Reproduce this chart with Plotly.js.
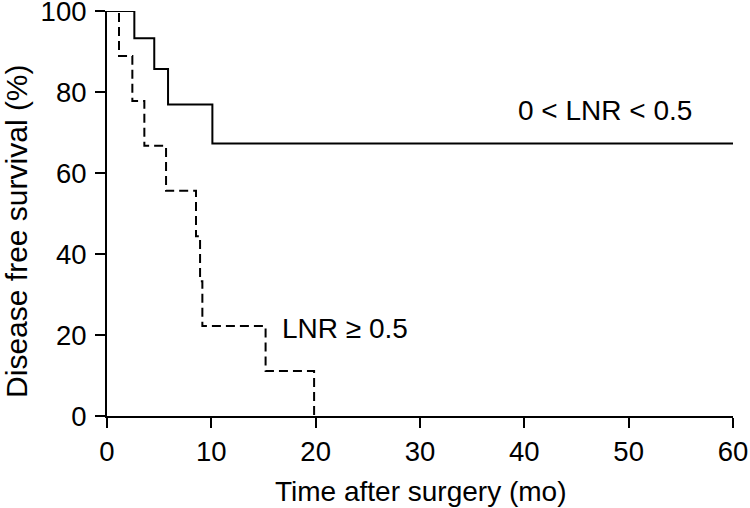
<!DOCTYPE html>
<html>
<head>
<meta charset="utf-8">
<script src="https://cdn.plot.ly/plotly-3.0.1.min.js"></script>
<style>html,body{margin:0;padding:0;background:#fff;}#chart{width:750px;height:508px;}</style>
</head>
<body>
<div id="chart"></div>
<script>
// Kaplan-Meier step data
const lowTimes = [0, 2.62, 4.53, 5.85, 10.1, 60];
const lowSurvival = [100, 93.3, 85.7, 76.9, 67.3, 67.3];
const highTimes = [0, 1.15, 2.43, 3.58, 5.66, 8.53, 8.92, 9.14, 15.2, 19.85];
const highSurvival = [100, 88.9, 77.8, 66.7, 55.6, 44.4, 33.3, 22.2, 11.1, 0];
const xTicks = [0, 10, 20, 30, 40, 50, 60];
const yTicks = [0, 20, 40, 60, 80, 100];
const labelLow = "0 < LNR < 0.5";
const labelHigh = "LNR ≥ 0.5";
const xTitle = "Time after surgery (mo)";
const yTitle = "Disease free survival (%)";

const FONT = "Liberation Sans, Arial, sans-serif";
const FS = 27.5;

const traces = [
  {x: lowTimes, y: lowSurvival, mode: "lines", line: {shape: "hv", color: "#000", width: 2}, cliponaxis: false, hoverinfo: "skip"},
  {x: highTimes, y: highSurvival, mode: "lines", line: {shape: "hv", color: "#000", width: 2, dash: "9px,5px"}, cliponaxis: false, hoverinfo: "skip"}
];

const layout = {
  width: 750, height: 508,
  margin: {l: 107, r: 17, t: 11, b: 92},
  paper_bgcolor: "#fff", plot_bgcolor: "#fff",
  showlegend: false,
  font: {family: FONT, size: FS, color: "#000"},
  xaxis: {
    range: [0, 60], tickvals: xTicks, ticktext: xTicks.map(String),
    showgrid: false, zeroline: false, showline: true, linecolor: "#000", linewidth: 2,
    ticks: "outside", ticklen: 10, tickwidth: 2, tickcolor: "#000",
    ticklabelstandoff: 0, ticklabeloverflow: "allow",
    tickfont: {family: FONT, size: FS, color: "#000"},
    fixedrange: true
  },
  yaxis: {
    range: [0, 100], tickvals: yTicks, ticktext: yTicks.map(String),
    showgrid: false, zeroline: false, showline: true, linecolor: "#000", linewidth: 2,
    ticks: "outside", ticklen: 10, tickwidth: 2, tickcolor: "#000",
    ticklabelstandoff: 3, ticklabeloverflow: "allow",
    tickfont: {family: FONT, size: FS, color: "#000"},
    fixedrange: true
  },
  annotations: [
    {x: 47.7, y: 75.5, xref: "x", yref: "y", text: labelLow, showarrow: false, font: {family: FONT, size: 28, color: "#000"}},
    {x: 22.8, y: 21.7, xref: "x", yref: "y", text: labelHigh, showarrow: false, font: {family: FONT, size: 28, color: "#000"}},
    {x: 0.5, y: -0.186, xref: "paper", yref: "paper", xanchor: "center", yanchor: "middle", text: xTitle, showarrow: false, font: {family: FONT, size: 28, color: "#000"}},
    {x: -0.1438, y: 0.457, xref: "paper", yref: "paper", xanchor: "center", yanchor: "middle", textangle: -90, text: yTitle, showarrow: false, font: {family: FONT, size: 30, color: "#000"}}
  ]
};

Plotly.newPlot("chart", traces, layout, {staticPlot: true, displayModeBar: false});
</script>
</body>
</html>
